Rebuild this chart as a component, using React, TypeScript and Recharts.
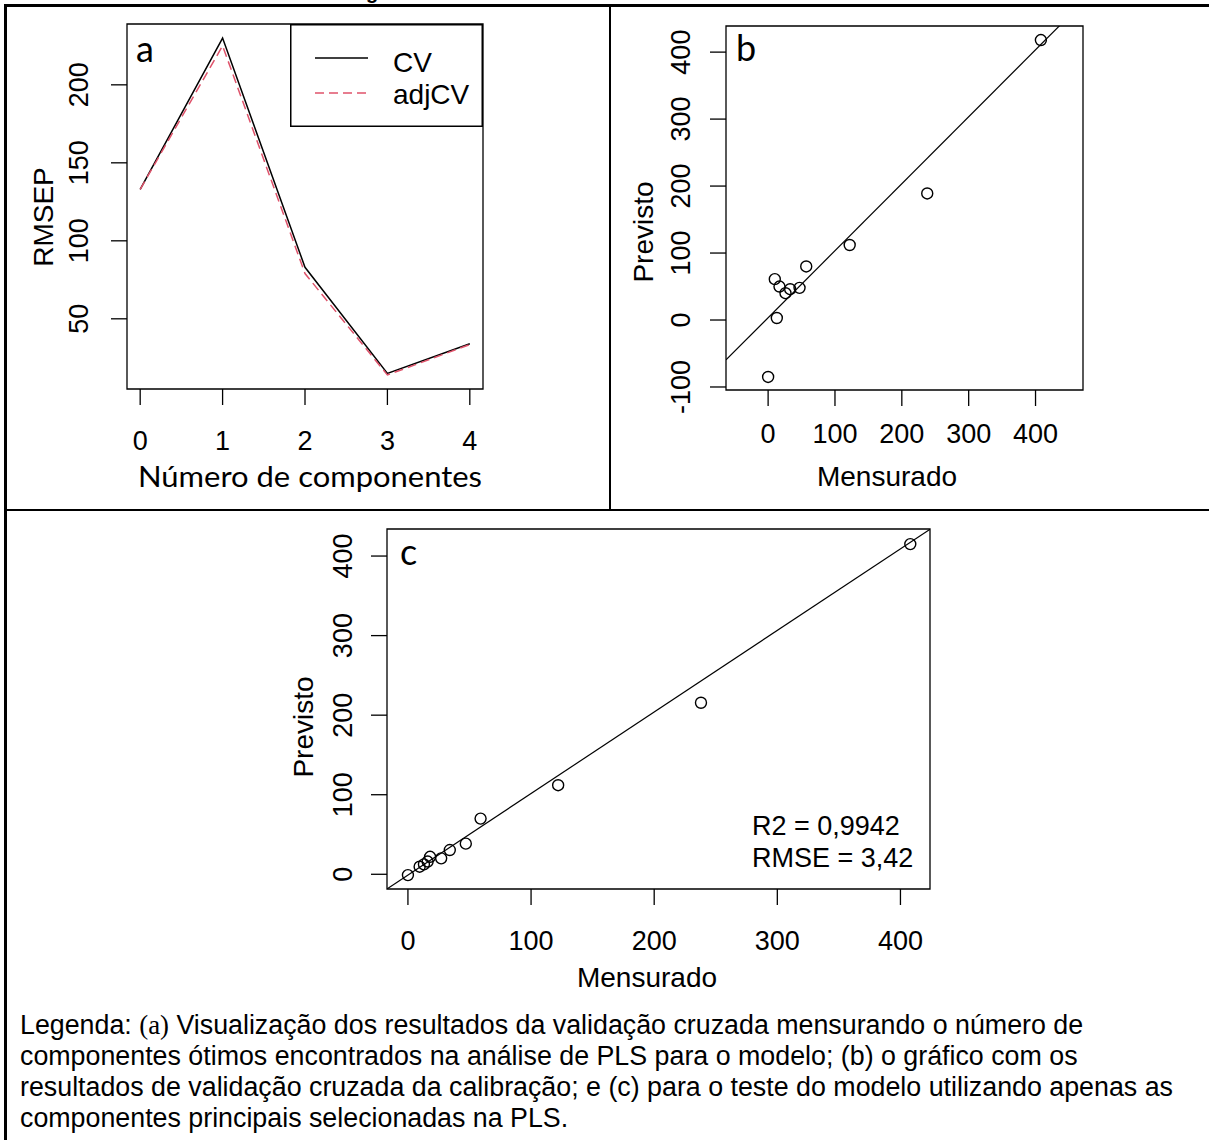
import {
  Legend,
  Line,
  LineChart,
  ReferenceArea,
  ReferenceLine,
  Scatter,
  ScatterChart,
  XAxis,
  YAxis,
} from 'recharts';

// (a) RMSEP x número de componentes
const componentes = [0, 1, 2, 3, 4];
const rmsepCV = [133, 230, 83, 15, 34];
const rmsepAdjCV = [133, 225, 79, 14, 33.5];
const ticksCompX = [0, 1, 2, 3, 4];
const ticksCompY = [50, 100, 150, 200];

// (b) validação cruzada da calibração
const calMensurado = [0, 13, 10, 17, 26, 33, 47, 57, 122, 238, 408];
const calPrevisto = [-85, 3, 61, 50, 40, 46, 48, 80, 112, 189, 418];
const calAjuste = [3.5, 1.0]; // intercepto, inclinação
const ticksCalX = [0, 100, 200, 300, 400];
const ticksCalY = [-100, 0, 100, 200, 300, 400];

// (c) teste do modelo
const testeMensurado = [0, 9.5, 13, 16, 18, 27, 34, 47, 59, 122, 238, 408];
const testePrevisto = [-1, 9.5, 12.5, 16, 22, 20, 30.5, 38.5, 70, 112, 215.6, 415];
const testeAjuste = [-1, 1.025];
const ticksTesteX = [0, 100, 200, 300, 400];
const ticksTesteY = [0, 100, 200, 300, 400];

const ARIAL = '"Liberation Sans", Arial, Helvetica, sans-serif';
const CALIBRI = 'Lato, "Open Sans", sans-serif';

const dataA = componentes.map((n, i) => ({ n, cv: rmsepCV[i], adj: rmsepAdjCV[i] }));
const dataB = calMensurado.map((x, i) => ({ x, y: calPrevisto[i] }));
const dataC = testeMensurado.map((x, i) => ({ x, y: testePrevisto[i] }));

const domA = { x: [-0.16, 4.16], y: [5, 239] };
const domB = { x: [-63, 471], y: [-104.5, 439] };
const domC = { x: [-17, 424], y: [-18.5, 434] };

const seg = (dom: { x: number[] }, fit: number[]) => [
  { x: dom.x[0], y: fit[0] + fit[1] * dom.x[0] },
  { x: dom.x[1], y: fit[0] + fit[1] * dom.x[1] },
];

const xTick = (baseY: number) => (props: any) => (
  <text x={props.x} y={baseY} textAnchor="middle" fontSize={27} fontFamily={ARIAL} fill="#000">
    {props.payload.value}
  </text>
);

const yTick = (baseX: number) => (props: any) => (
  <text
    x={baseX}
    y={props.y}
    transform={`rotate(-90 ${baseX} ${props.y})`}
    textAnchor="middle"
    fontSize={27}
    fontFamily={ARIAL}
    fill="#000"
  >
    {props.payload.value}
  </text>
);

const circle = (props: any) => (
  <circle cx={props.cx} cy={props.cy} r={5.5} fill="none" stroke="#000" strokeWidth={1.4} />
);

function LegendBox(props: any) {
  const items = props.payload || [];
  return (
    <svg width={193} height={103} style={{ display: 'block' }}>
      <rect x={0.75} y={0.75} width={191.5} height={101.5} fill="#fff" stroke="#000" strokeWidth={1.5} />
      {items.map((it: any, i: number) => (
        <g key={i}>
          <line
            x1={25}
            x2={78}
            y1={34 + i * 35}
            y2={34 + i * 35}
            stroke={it.color}
            strokeWidth={1.5}
            strokeDasharray={it.payload?.strokeDasharray}
          />
          <text x={103} y={48 + i * 32} fontSize={28} fontFamily={ARIAL} fill="#000">
            {it.value}
          </text>
        </g>
      ))}
    </svg>
  );
}

function PainelA() {
  return (
    <div style={{ position: 'absolute', left: 7, top: 7 }}>
      <LineChart width={602} height={502} data={dataA} margin={{ top: 17, right: 126, left: 0, bottom: 0 }}>
        <XAxis
          dataKey="n"
          type="number"
          domain={domA.x}
          allowDataOverflow
          ticks={ticksCompX}
          interval={0}
          height={120}
          axisLine={false}
          tickSize={16}
          tickLine={{ stroke: '#000', strokeWidth: 1.3 }}
          tick={xTick(443)}
        />
        <YAxis
          type="number"
          domain={domA.y}
          allowDataOverflow
          ticks={ticksCompY}
          interval={0}
          width={120}
          axisLine={false}
          tickSize={16}
          tickLine={{ stroke: '#000', strokeWidth: 1.3 }}
          tick={yTick(81)}
        />
        <ReferenceArea x1={domA.x[0]} x2={domA.x[1]} y1={domA.y[0]} y2={domA.y[1]} fill="none" stroke="#000" strokeWidth={1.3} />
        <Line name="CV" dataKey="cv" type="linear" stroke="#000" strokeWidth={1.5} dot={false} isAnimationActive={false} />
        <Line
          name="adjCV"
          dataKey="adj"
          type="linear"
          stroke="#DF536B"
          strokeWidth={1.5}
          strokeDasharray="9 5"
          dot={false}
          isAnimationActive={false}
        />
        <Legend
          layout="horizontal"
          verticalAlign="middle"
          align="center"
          wrapperStyle={{ left: 283, top: 17, width: 193, height: 103 }}
          content={LegendBox}
        />
      </LineChart>
    </div>
  );
}

function PainelB() {
  return (
    <div style={{ position: 'absolute', left: 611, top: 7 }}>
      <ScatterChart width={598} height={503} margin={{ top: 19, right: 126, left: 0, bottom: 0 }}>
        <XAxis
          dataKey="x"
          type="number"
          domain={domB.x}
          allowDataOverflow
          ticks={ticksCalX}
          interval={0}
          height={120}
          axisLine={false}
          tickSize={16}
          tickLine={{ stroke: '#000', strokeWidth: 1.3 }}
          tick={xTick(436)}
        />
        <YAxis
          dataKey="y"
          type="number"
          domain={domB.y}
          allowDataOverflow
          ticks={ticksCalY}
          interval={0}
          width={115}
          axisLine={false}
          tickSize={16}
          tickLine={{ stroke: '#000', strokeWidth: 1.3 }}
          tick={yTick(79)}
        />
        <ReferenceArea x1={domB.x[0]} x2={domB.x[1]} y1={domB.y[0]} y2={domB.y[1]} fill="none" stroke="#000" strokeWidth={1.3} />
        <ReferenceLine segment={seg(domB, calAjuste)} ifOverflow="hidden" stroke="#000" strokeWidth={1.2} />
        <Scatter data={dataB} shape={circle} isAnimationActive={false} />
      </ScatterChart>
    </div>
  );
}

function PainelC() {
  return (
    <div style={{ position: 'absolute', left: 280, top: 512 }}>
      <ScatterChart width={700} height={490} margin={{ top: 17, right: 50, left: 0, bottom: 0 }}>
        <XAxis
          dataKey="x"
          type="number"
          domain={domC.x}
          allowDataOverflow
          ticks={ticksTesteX}
          interval={0}
          height={113}
          axisLine={false}
          tickSize={16}
          tickLine={{ stroke: '#000', strokeWidth: 1.3 }}
          tick={xTick(438)}
        />
        <YAxis
          dataKey="y"
          type="number"
          domain={domC.y}
          allowDataOverflow
          ticks={ticksTesteY}
          interval={0}
          width={107}
          axisLine={false}
          tickSize={16}
          tickLine={{ stroke: '#000', strokeWidth: 1.3 }}
          tick={yTick(72)}
        />
        <ReferenceArea x1={domC.x[0]} x2={domC.x[1]} y1={domC.y[0]} y2={domC.y[1]} fill="none" stroke="#000" strokeWidth={1.3} />
        <ReferenceLine segment={seg(domC, testeAjuste)} ifOverflow="hidden" stroke="#000" strokeWidth={1.2} />
        <Scatter data={dataC} shape={circle} isAnimationActive={false} />
      </ScatterChart>
    </div>
  );
}

const legenda = [
  'componentes ótimos encontrados na análise de PLS para o modelo; (b) o gráfico com os',
  'resultados de validação cruzada da calibração; e (c) para o teste do modelo utilizando apenas as',
  'componentes principais selecionadas na PLS.',
];

export default function App() {
  const capSize = 26.8;
  return (
    <div style={{ position: 'relative', width: 1209, height: 1140, background: '#fff', overflow: 'hidden' }}>
      <style>{'body{margin:0}'}</style>
      <PainelA />
      <PainelB />
      <PainelC />
      <svg width={1209} height={1140} style={{ position: 'absolute', left: 0, top: 0, pointerEvents: 'none' }}>
        {/* moldura da tabela */}
        <rect x={4} y={4} width={1205} height={3} fill="#000" />
        <rect x={4} y={4} width={3} height={1136} fill="#000" />
        <rect x={609} y={4} width={2} height={507} fill="#000" />
        <rect x={4} y={509} width={1205} height={2} fill="#000" />
        <text x={366} y={-1} fontSize={20} fontWeight="bold" fontFamily={ARIAL}>g</text>

        {/* letras dos painéis */}
        <text x={136} y={62} fontSize={36} fontFamily={CALIBRI}>a</text>
        <text x={736} y={61} fontSize={36} fontFamily={CALIBRI}>b</text>
        <text x={400} y={565} fontSize={36} fontFamily={CALIBRI}>c</text>

        {/* títulos dos eixos */}
        <text x={52.5} y={217} transform="rotate(-90 52.5 217)" textAnchor="middle" fontSize={28} fontFamily={ARIAL}>RMSEP</text>
        <text x={310} y={487} textAnchor="middle" fontSize={29} fontFamily={CALIBRI} textLength={344} lengthAdjust="spacingAndGlyphs">
          Número de componentes
        </text>
        <text x={653} y={232} transform="rotate(-90 653 232)" textAnchor="middle" fontSize={28} fontFamily={ARIAL}>Previsto</text>
        <text x={887} y={486} textAnchor="middle" fontSize={28} fontFamily={ARIAL}>Mensurado</text>
        <text x={313} y={727} transform="rotate(-90 313 727)" textAnchor="middle" fontSize={28} fontFamily={ARIAL}>Previsto</text>
        <text x={647} y={987} textAnchor="middle" fontSize={28} fontFamily={ARIAL}>Mensurado</text>

        {/* estatísticas */}
        <text x={752} y={835} fontSize={27} fontFamily={ARIAL}>R2 = 0,9942</text>
        <text x={752} y={867} fontSize={27} fontFamily={ARIAL}>RMSE = 3,42</text>

        {/* legenda da figura */}
        <text x={20} y={1034} fontSize={capSize} fontFamily={ARIAL}>
          Legenda: <tspan fontFamily='"Liberation Serif", "Times New Roman", serif'>(a)</tspan> Visualização dos
          resultados da validação cruzada mensurando o número de
        </text>
        {legenda.map((t, i) => (
          <text key={i} x={20} y={1065 + i * 31} fontSize={capSize} fontFamily={ARIAL}>
            {t}
          </text>
        ))}
      </svg>
    </div>
  );
}
